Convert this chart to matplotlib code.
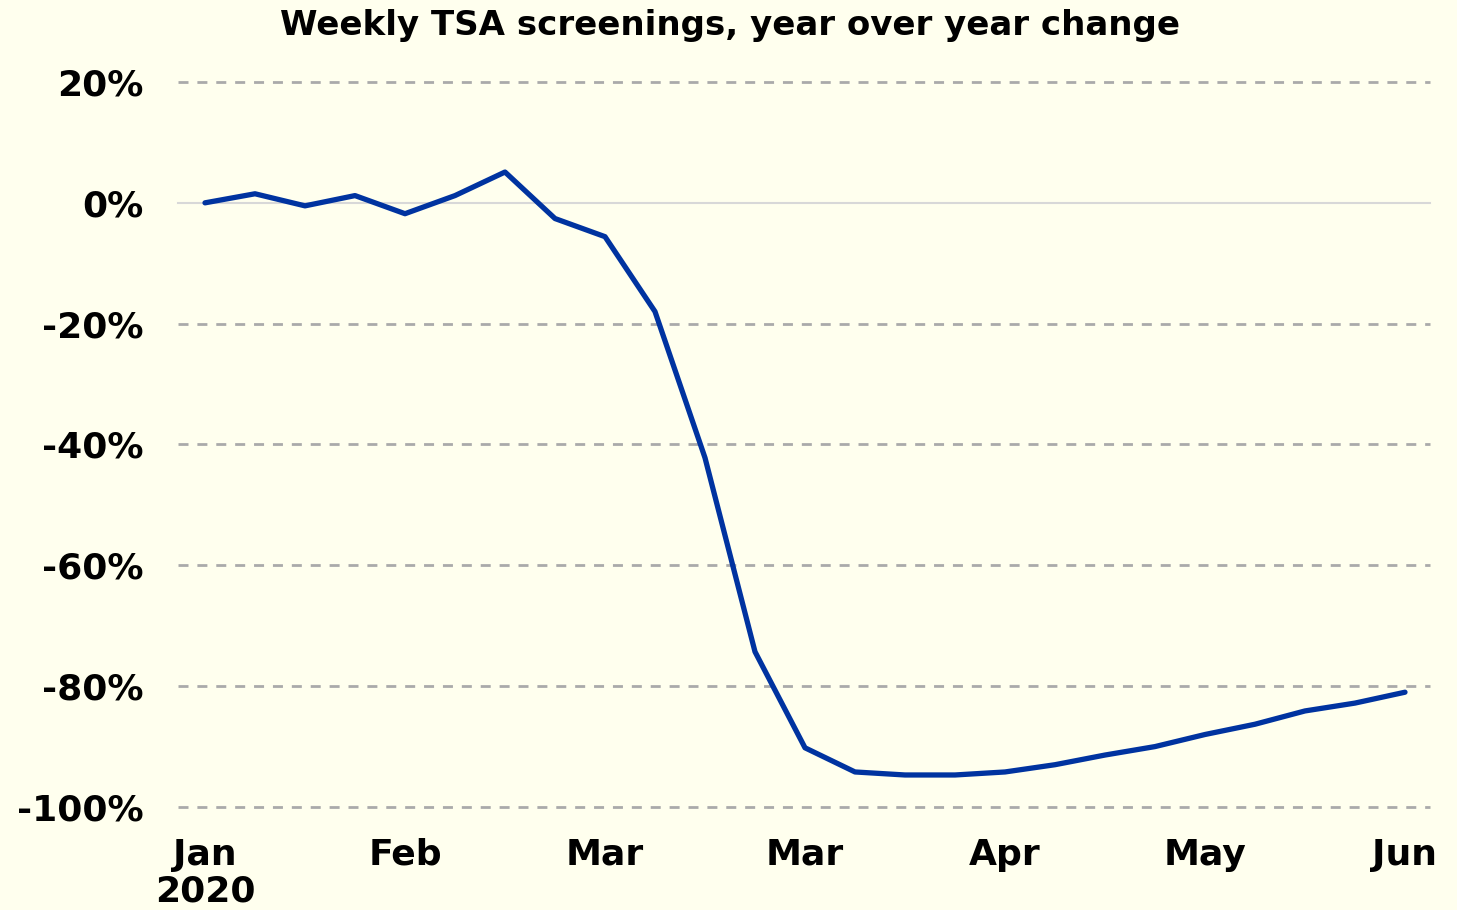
"""Weekly TSA screenings, year over year change"""
import matplotlib
matplotlib.use("Agg")
import matplotlib.pyplot as plt
import numpy as np

# weekly yoy change (%)
weeks = np.arange(25)
yoy = [0.0, 1.5, -0.5, 1.2, -1.8, 1.2, 5.1, -2.6, -5.6, -18.0, -42.2, -74.3,
       -90.2, -94.2, -94.7, -94.7, -94.2, -93.0, -91.4, -90.0, -88.0, -86.3,
       -84.1, -82.8, -81.0]
tick_pos = [0, 4, 8, 12, 16, 20, 24]
tick_labels = ["Jan\n2020", "Feb", "Mar", "Mar", "Apr", "May", "Jun"]
y_ticks = [20, 0, -20, -40, -60, -80, -100]

bg = "#FFFFEE"
plt.rcParams["font.family"] = "DejaVu Sans"
plt.rcParams["font.weight"] = "bold"

fig = plt.figure(figsize=(14.57, 9.10), dpi=100, facecolor=bg)
ax = fig.add_axes([178 / 1457, 1 - 807 / 910, (1430 - 178) / 1457, (807 - 82) / 910])
ax.set_facecolor(bg)

# grid: solid light zero line, dashed elsewhere
for y in y_ticks:
    if y == 0:
        ax.axhline(y, color="#D8D8D8", lw=1.5, zorder=1, clip_on=False)
    else:
        ax.axhline(y, color="#AAAAAA", lw=2, ls=(0, (3.6, 3.2)), zorder=1, clip_on=False)

ax.plot(weeks, yoy, color="#0033A0", lw=3.8, solid_capstyle="round",
        solid_joinstyle="round", zorder=3, clip_on=False)

ax.set_xlim(-0.54, 24.5)
ax.set_ylim(-100, 20)
ax.set_yticks(y_ticks)
ax.set_yticklabels([f"{v}%" for v in y_ticks], fontsize=26, fontweight="bold",
                   va="center_baseline")
ax.set_xticks(tick_pos)
ax.set_xticklabels(tick_labels, fontsize=26, fontweight="bold", linespacing=1.1)
ax.tick_params(length=0)
ax.tick_params(axis="x", pad=22)
ax.tick_params(axis="y", pad=25)
for s in ax.spines.values():
    s.set_visible(False)

fig.text(730 / 1457, 1 - 25 / 910, "Weekly TSA screenings, year over year change",
         ha="center", va="center", fontsize=24.5, fontweight="bold")

fig.savefig("out.png", dpi=100, facecolor=bg)
